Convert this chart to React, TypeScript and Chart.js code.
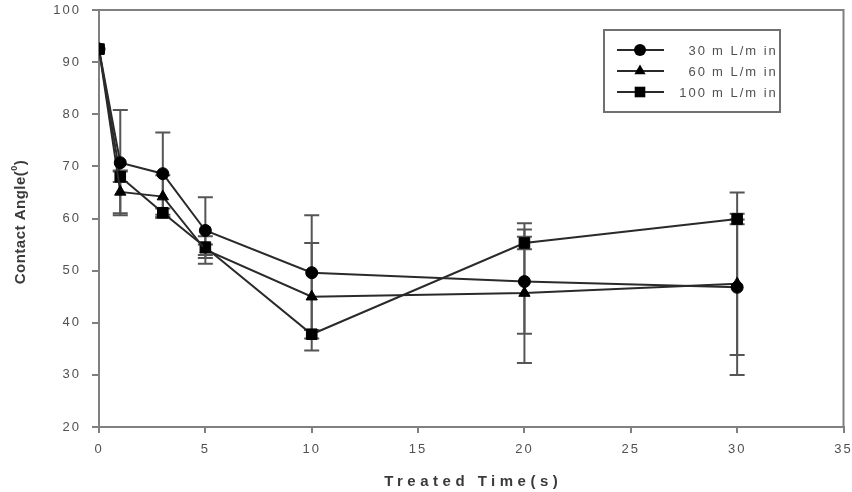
import React, { useEffect, useRef } from "react";
import { Chart, registerables } from "chart.js";

Chart.register(...registerables);

// Treatment times (s) and contact angle means / standard deviations per flow rate
const times = [0, 1, 3, 5, 10, 20, 30];
const flow30 = [92.5, 70.7, 68.6, 57.7, 49.6, 47.9, 46.8];
const flow30Err = [0, 10.1, 7.9, 6.4, 11.0, 10.0, 13.0];
const flow60 = [92.5, 65.1, 64.2, 54.0, 45.0, 45.7, 47.5];
const flow60Err = [0, 4.1, 4.1, 1.0, 10.3, 13.4, 17.5];
const flow100 = [92.5, 68.0, 61.1, 54.5, 37.8, 55.3, 59.9];
const flow100Err = [0, 1.0, 0.8, 2.1, 0.8, 1.2, 1.0];

const seriesLabels = ["30", "60", "100"];
const unitLabel = "m L/m in";
const xTitle = "Treated Time(s)";
const yTitle = "Contact Angle(";

const xTicks = [0, 5, 10, 15, 20, 25, 30, 35];
const yTicks = [20, 30, 40, 50, 60, 70, 80, 90, 100];

const FONT = "'Liberation Sans', Arial, sans-serif";
const LINE = "#2a2a2a";
const AXIS = "#808080";
const TEXT = "#505050";

const pointStyles = ["circle", "triangle", "rect"] as const;
const pointRadii = [6, 6.5, 7.5];

// legend marker shapes, sized like the plotted points
function drawMarker(ctx: CanvasRenderingContext2D, style: string, x: number, y: number, r: number) {
  ctx.beginPath();
  if (style === "circle") {
    ctx.arc(x, y, r, 0, Math.PI * 2);
  } else if (style === "triangle") {
    ctx.moveTo(x, y - r);
    ctx.lineTo(x + r * 0.866, y + r * 0.5);
    ctx.lineTo(x - r * 0.866, y + r * 0.5);
    ctx.closePath();
  } else {
    const s = r * Math.SQRT1_2;
    ctx.rect(x - s, y - s, 2 * s, 2 * s);
  }
  ctx.fill();
}

export default function App() {
  const canvasRef = useRef<HTMLCanvasElement | null>(null);

  useEffect(() => {
    document.body.style.margin = "0";
    const canvas = canvasRef.current;
    if (!canvas) return;

    const values = [flow30, flow60, flow100];
    const errors = [flow30Err, flow60Err, flow100Err];

    const spacingPlugin = {
      id: "letterSpacing",
      beforeUpdate(chart: any) {
        (chart.ctx as any).letterSpacing = "2px";
      },
      beforeDraw(chart: any) {
        (chart.ctx as any).letterSpacing = "2px";
      },
    };

    const errorBarPlugin = {
      id: "errorBars",
      beforeDatasetsDraw(chart: any) {
        const ctx = chart.ctx;
        const xs = chart.scales.x;
        const ys = chart.scales.y;
        ctx.save();
        ctx.strokeStyle = "#555555";
        ctx.lineWidth = 2;
        values.forEach((vals, i) => {
          vals.forEach((v, j) => {
            const e = errors[i][j];
            if (!e) return;
            const x = xs.getPixelForValue(times[j]);
            const yt = ys.getPixelForValue(v + e);
            const yb = ys.getPixelForValue(v - e);
            ctx.beginPath();
            ctx.moveTo(x, yt);
            ctx.lineTo(x, yb);
            ctx.moveTo(x - 7.5, yt);
            ctx.lineTo(x + 7.5, yt);
            ctx.moveTo(x - 7.5, yb);
            ctx.lineTo(x + 7.5, yb);
            ctx.stroke();
          });
        });
        ctx.restore();
      },
    };

    const decorPlugin = {
      id: "decor",
      afterDraw(chart: any) {
        const ctx = chart.ctx;
        const a = chart.chartArea;
        ctx.save();
        // frame top and right
        ctx.strokeStyle = AXIS;
        ctx.lineWidth = 2;
        ctx.beginPath();
        ctx.moveTo(a.left, a.top);
        ctx.lineTo(a.right, a.top);
        ctx.lineTo(a.right, a.bottom);
        ctx.stroke();

        // axis titles
        ctx.fillStyle = "#3a3a3a";
        ctx.font = `bold 15px ${FONT}`;
        ctx.textBaseline = "middle";
        ctx.textAlign = "center";
        (ctx as any).letterSpacing = "4.5px";
        ctx.fillText(xTitle, (a.left + a.right) / 2 + 2, 482);

        (ctx as any).letterSpacing = "0.5px";
        ctx.save();
        ctx.translate(21, 222);
        ctx.rotate(-Math.PI / 2);
        ctx.textAlign = "left";
        const w1 = ctx.measureText(yTitle).width;
        const w2 = ctx.measureText(")").width;
        ctx.font = `bold 9px ${FONT}`;
        const ws = ctx.measureText("0").width;
        const start = -(w1 + ws + w2) / 2;
        ctx.fillText("0", start + w1, -6);
        ctx.font = `bold 15px ${FONT}`;
        ctx.fillText(yTitle, start, 0);
        ctx.fillText(")", start + w1 + ws, 0);
        ctx.restore();

        // legend box
        const lx = 604, ly = 30, lw = 176, lh = 82;
        ctx.fillStyle = "#ffffff";
        ctx.fillRect(lx, ly, lw, lh);
        ctx.strokeStyle = "#707070";
        ctx.lineWidth = 2;
        ctx.strokeRect(lx, ly, lw, lh);
        const rows = [50, 71, 92];
        seriesLabels.forEach((lab, i) => {
          const y = rows[i];
          ctx.strokeStyle = LINE;
          ctx.lineWidth = 2;
          ctx.beginPath();
          ctx.moveTo(617, y);
          ctx.lineTo(664, y);
          ctx.stroke();
          ctx.fillStyle = "#000000";
          drawMarker(ctx, pointStyles[i], 640, y, pointRadii[i]);
          ctx.fillStyle = TEXT;
          ctx.font = `13px ${FONT}`;
          (ctx as any).letterSpacing = "2px";
          ctx.textAlign = "right";
          ctx.fillText(lab, 707, y + 1);
          ctx.textAlign = "left";
          ctx.fillText(unitLabel, 712, y + 1);
        });
        ctx.restore();
      },
    };

    const datasets = values.map((vals, i) => ({
      label: seriesLabels[i] + " " + unitLabel,
      data: vals.map((v, j) => ({ x: times[j], y: v })),
      showLine: true,
      borderColor: LINE,
      borderWidth: 2,
      backgroundColor: "#000000",
      pointBackgroundColor: "#000000",
      pointBorderColor: "#000000",
      pointBorderWidth: 1,
      pointStyle: pointStyles[i],
      pointRadius: pointRadii[i],
      pointHoverRadius: pointRadii[i],
      order: i + 1,
    }));

    const chart = new Chart(canvas, {
      type: "scatter",
      data: { datasets },
      options: {
        animation: false,
        responsive: false,
        devicePixelRatio: 1,
        layout: { padding: { left: 0, right: 8, top: 10, bottom: 0 } },
        plugins: { legend: { display: false }, tooltip: { enabled: false } },
        scales: {
          x: {
            type: "linear",
            min: 0,
            max: 35,
            afterBuildTicks(scale: any) {
              scale.ticks = xTicks.map((v) => ({ value: v }));
            },
            afterFit(scale: any) {
              scale.height = 65;
              scale.paddingLeft = 0;
              scale.paddingRight = 0;
            },
            grid: { drawOnChartArea: false, drawTicks: true, tickLength: 6, color: AXIS, lineWidth: 2 },
            border: { color: AXIS, width: 2 },
            ticks: { color: TEXT, font: { family: FONT, size: 13 }, padding: 9, maxRotation: 0 },
          },
          y: {
            type: "linear",
            min: 20,
            max: 100,
            afterBuildTicks(scale: any) {
              scale.ticks = yTicks.map((v) => ({ value: v }));
            },
            afterFit(scale: any) {
              scale.width = 99;
              scale.paddingTop = 0;
              scale.paddingBottom = 0;
            },
            grid: { drawOnChartArea: false, drawTicks: true, tickLength: 7, color: AXIS, lineWidth: 2 },
            border: { color: AXIS, width: 2 },
            ticks: { color: TEXT, font: { family: FONT, size: 13 }, padding: 11 },
          },
        },
      },
      plugins: [spacingPlugin, errorBarPlugin, decorPlugin],
    });

    return () => chart.destroy();
  }, []);

  return (
    <div style={{ width: 852, height: 492, background: "#ffffff" }}>
      <canvas ref={canvasRef} width={852} height={492} style={{ display: "block" }} />
    </div>
  );
}
